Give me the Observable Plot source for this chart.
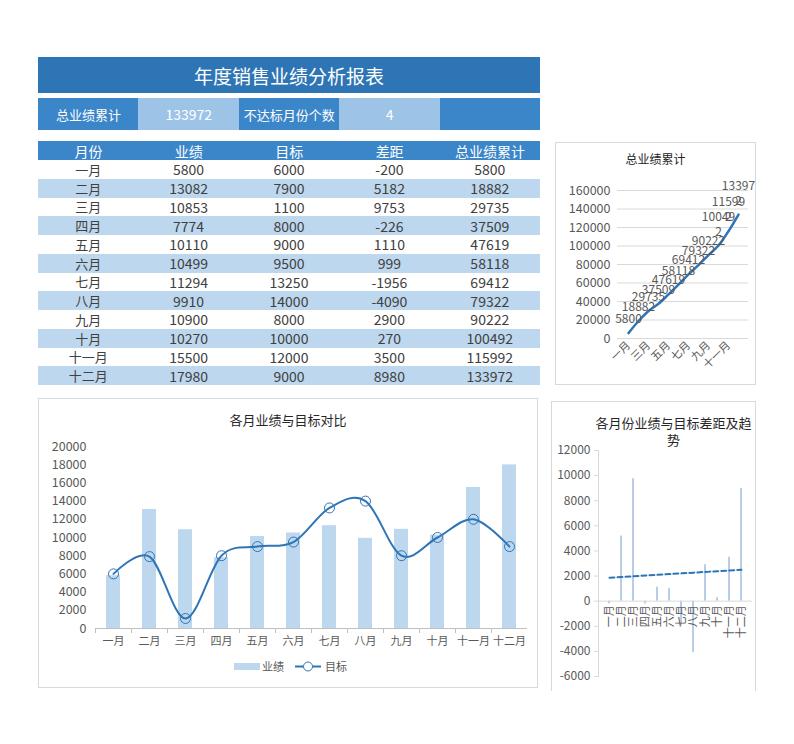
<!DOCTYPE html>
<html><head><meta charset="utf-8">
<script src="https://cdn.jsdelivr.net/npm/d3@7"></script>
<script src="https://cdn.jsdelivr.net/npm/@observablehq/plot@0.6"></script>
<style>
body{margin:0;background:#fff;font-family:"Noto Sans CJK SC","Noto Sans",sans-serif;}
#root{position:relative;width:794px;height:744px;overflow:hidden;background:#fff;}
.abs{position:absolute;box-sizing:border-box;}
.cell{display:flex;align-items:center;justify-content:center;white-space:nowrap;}
svg{overflow:visible;}
</style></head><body><div id="root"></div>
<script>
// ---------- data ----------
const months = ["一月","二月","三月","四月","五月","六月","七月","八月","九月","十月","十一月","十二月"];
const sales = [5800,13082,10853,7774,10110,10499,11294,9910,10900,10270,15500,17980];
const targets = [6000,7900,1100,8000,9000,9500,13250,14000,8000,10000,12000,9000];
const gaps = [-200,5182,9753,-226,1110,999,-1956,-4090,2900,270,3500,8980];
const cumulative = [5800,18882,29735,37509,47619,58118,69412,79322,90222,100492,115992,133972];
const tableHeaders = ["月份","业绩","目标","差距","总业绩累计"];
const reportTitle = "年度销售业绩分析报表";
const summaryLabels = ["总业绩累计","不达标月份个数"];
const summaryValues = ["133972","4"];
const chartTitles = ["总业绩累计","各月业绩与目标对比","各月份业绩与目标差距及趋势"];
const legendLabels = ["业绩","目标"];
const cumTicks = [0,20000,40000,60000,80000,100000,120000,140000,160000];
const cumXTicks = ["一月","三月","五月","七月","九月","十一月"];
const salesTicks = [0,2000,4000,6000,8000,10000,12000,14000,16000,18000,20000];
const gapTicks = [-6000,-4000,-2000,0,2000,4000,6000,8000,10000,12000];

// ---------- colours ----------
const C = {banner:"#2e75b6", dark:"#3b86c9", light:"#9dc3e6", stripe:"#bdd7ee", bar:"#bdd7ee",
  line:"#2e75b6", text:"#404040", axis:"#595959", grid:"#d9d9d9", border:"#d9d9d9"};
const FONT = "'Noto Sans CJK SC','Noto Sans',sans-serif";

const root = document.getElementById("root");
function box(left, top, w, h, css, text) {
  const d = document.createElement("div");
  d.className = "abs cell";
  Object.assign(d.style, {left:left+"px", top:top+"px", width:w+"px", height:h+"px"}, css || {});
  if (text != null) d.textContent = text;
  root.appendChild(d);
  return d;
}
const isNum = v => /^-?\d+$/.test(String(v));

// ---------- banner ----------
box(38, 57, 502, 36, {background:C.banner, color:"#fff", fontSize:"19px"}, reportTitle);
// summary row
const sumW = 100.4;
[[summaryLabels[0], C.dark],[summaryValues[0], C.light],[summaryLabels[1], C.dark],[summaryValues[1], C.light],["", C.dark]]
  .forEach(([t, bg], i) => box(38 + i*sumW, 98, sumW + 0.5, 32, {background:bg, color:"#fff", fontSize: isNum(t) ? "14px" : "13px"}, t));

// ---------- table ----------
const colW = 100.4;
tableHeaders.forEach((h, j) => box(38 + j*colW, 141, colW + 0.5, 19, {background:C.dark, color:"#fff", fontSize:"14px"}, h));
const rowH = 18.75;
months.forEach((m, i) => {
  const vals = [m, sales[i], targets[i], gaps[i], cumulative[i]];
  const top = 160 + i*rowH;
  box(38, top, 502, rowH + 0.3, {background: i % 2 ? C.stripe : "#fff"});
  vals.forEach((v, j) => box(38 + j*colW, top, colW, rowH, {color:C.text, fontSize: j ? "14px" : "13px"}, String(v)));
});

// ---------- panels ----------
function panel(left, top, w, h, bottom) {
  box(left, top, w, h, {border:"1px solid "+C.border, borderBottom: bottom ? "1px solid "+C.border : "none", background:"#fff"});
}
panel(555, 142, 201, 243, true);
panel(38, 398, 500, 290, true);
panel(551, 401, 205, 290, false);

// titles
box(555, 149, 201, 18, {color:"#262626", fontSize:"12px"}, chartTitles[0]);
box(38, 409, 500, 20, {color:"#262626", fontSize:"13px"}, chartTitles[1]);
box(593, 414, 161, 40, {color:"#262626", fontSize:"13px", whiteSpace:"normal", textAlign:"center", lineHeight:"17px", alignItems:"flex-start"}, chartTitles[2]);

function place(svg, left, top) {
  const wrap = document.createElement("div");
  wrap.className = "abs";
  wrap.style.left = left + "px"; wrap.style.top = top + "px";
  wrap.appendChild(svg);
  root.appendChild(wrap);
}
const fmtInt = d => String(d);

// ---------- chart 1: cumulative ----------
const cumData = months.map((m, i) => ({month:m, value:cumulative[i]}));
const wrapLabel = v => { const s = String(v); return s.length > 5 ? s.slice(0,5) + "\n" + s.slice(5) : s; };
const chart1 = Plot.plot({
  width:200, height:212, marginTop:20, marginBottom:44, marginLeft:62, marginRight:7,
  style:{fontFamily:FONT, background:"transparent", color:C.axis},
  x:{type:"point", domain:months, padding:0.5, label:null},
  y:{domain:[0,160000], label:null},
  marks:[
    Plot.gridY(cumTicks, {stroke:C.grid, strokeOpacity:1}),
    Plot.axisY(cumTicks, {tickSize:0, tickPadding:7, tickFormat:fmtInt, fontSize:12.5, fill:C.axis, label:null}),
    Plot.axisX(cumXTicks, {tickSize:0, tickPadding:5, tickRotate:-45, fontSize:11, fill:C.axis, label:null}),
    Plot.line(cumData, {x:"month", y:"value", stroke:C.line, strokeWidth:2.5, curve:"cardinal"}),
    Plot.text(cumData, {x:"month", y:"value", text:d => wrapLabel(d.value), lineAnchor:"bottom", dy:-10, fontSize:12, fill:C.axis, lineHeight:1.25})
  ]
});
place(chart1, 555, 170);

// ---------- chart 2: sales vs target ----------
const salesData = months.map((m, i) => ({month:m, value:sales[i]}));
const targetData = months.map((m, i) => ({month:m, value:targets[i]}));
const chart2 = Plot.plot({
  width:500, height:220, marginTop:10, marginBottom:28, marginLeft:57, marginRight:11,
  style:{fontFamily:FONT, background:"transparent", color:C.axis},
  x:{type:"band", domain:months, paddingInner:0.61, paddingOuter:0.305, label:null},
  y:{domain:[0,20000], label:null},
  marks:[
    Plot.barY(salesData, {x:"month", y:"value", fill:C.bar}),
    Plot.ruleY([0], {stroke:"#bfbfbf"}),
    Plot.axisX({tickSize:5, text:null, dx:-18, stroke:"#bfbfbf", label:null}),
    Plot.axisX({tickSize:0, tickPadding:9, fontSize:11, fill:C.axis, label:null}),
    Plot.axisY(salesTicks, {tickSize:0, tickPadding:9, tickFormat:fmtInt, fontSize:12.5, fill:C.axis, label:null}),
    Plot.line(targetData, {x:"month", y:"value", stroke:C.line, strokeWidth:2, curve:"cardinal"}),
    Plot.dot(targetData, {x:"month", y:"value", r:5, stroke:C.line, strokeWidth:1, fill:"none"})
  ]
});
place(chart2, 38, 436);

// legend for chart 2
const leg = document.createElement("div");
leg.className = "abs";
leg.style.left = "234px"; leg.style.top = "655px";
leg.innerHTML = `<svg width="120" height="16">
  <rect x="0" y="5" width="26" height="7" fill="${C.bar}"></rect>
  <text x="28" y="12.5" fill="${C.axis}" font-size="11" font-family="${FONT}">${legendLabels[0]}</text>
  <line x1="61" x2="87" y1="8.5" y2="8.5" stroke="${C.line}" stroke-width="2"></line>
  <circle cx="74" cy="8.5" r="4.5" fill="#fff" stroke="${C.line}"></circle>
  <text x="91" y="12.5" fill="${C.axis}" font-size="11" font-family="${FONT}">${legendLabels[1]}</text></svg>`;
root.appendChild(leg);

// ---------- chart 3: gap and trend ----------
const gapData = months.map((m, i) => ({month:m, value:gaps[i], idx:i + 1}));
// least-squares trend line (as the spreadsheet's linear trendline)
const mx = d3.mean(gapData, d => d.idx), my = d3.mean(gapData, d => d.value);
const slope = d3.sum(gapData, d => (d.idx - mx) * (d.value - my)) / d3.sum(gapData, d => (d.idx - mx) ** 2);
const trendData = gapData.map(d => ({month:d.month, value: my + slope * (d.idx - mx)}));
const chart3 = Plot.plot({
  width:205, height:248, marginTop:10, marginBottom:12, marginLeft:47, marginRight:4,
  style:{fontFamily:FONT, background:"transparent", color:C.axis},
  x:{type:"band", domain:months, paddingInner:0.8, paddingOuter:0.4, axis:null, label:null},
  y:{domain:[-6000,12000], label:null},
  marks:[
    Plot.frame({anchor:"left", stroke:C.grid}),
    Plot.axisY(gapTicks, {tickSize:4, tickPadding:4, tickFormat:fmtInt, fontSize:12, fill:C.axis, stroke:C.grid, label:null}),
    Plot.barY(gapData, {x:"month", y:"value", fill:"#b7cde8"}),
    Plot.ruleY([0], {stroke:C.grid}),
    Plot.text(gapData, {x:"month", y:() => 0, text:"month", rotate:-90, textAnchor:"end", dy:4, fontSize:11, fill:C.axis}),
    Plot.line(trendData, {x:"month", y:"value", stroke:C.line, strokeWidth:2, strokeDasharray:"5,3"})
  ]
});
place(chart3, 551, 440);
</script></body></html>
